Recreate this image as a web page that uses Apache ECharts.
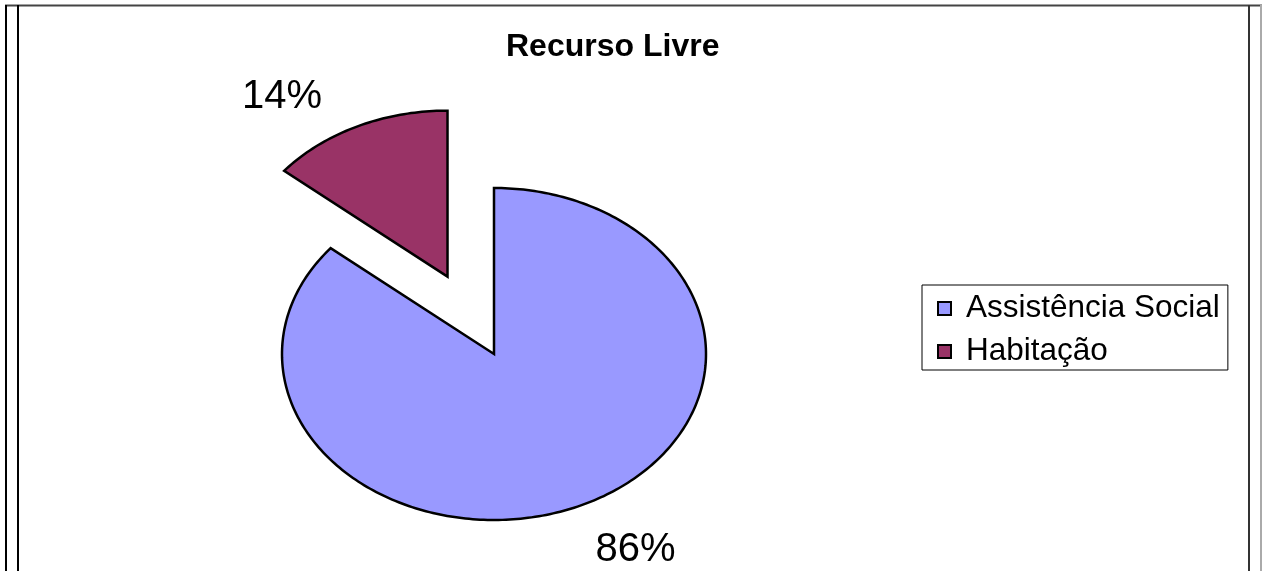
<!DOCTYPE html>
<html>
<head>
<meta charset="utf-8">
<script src="https://cdn.jsdelivr.net/npm/echarts@6/dist/echarts.min.js"></script>
<style>
html,body{margin:0;padding:0;background:#fff;}
#chart{width:1267px;height:571px;}
</style>
</head>
<body>
<div id="chart"></div>
<script>
// ---- data ----
const categories = ['Assistência Social', 'Habitação'];
const values = [86, 14];
const colors = ['#9999FF', '#993366'];
const exploded = [0, 0.515];
const chartTitle = 'Recurso Livre';

// ---- layout (ellipse pie, as in the stretched Excel plot area) ----
const CX = 494, CY = 354, RX = 212, RY = 166;
const FONT = '"Liberation Sans", Arial, Helvetica, sans-serif';
const total = values.reduce((a, b) => a + b, 0);

function makeRender(idx) {
  return function (params, api) {
    let cum = 0;
    for (let i = 0; i < idx; i++) cum += values[i];
    const v = api.value(0);
    const a0 = 2 * Math.PI * cum / total;
    const a1 = 2 * Math.PI * (cum + v) / total;
    const mid = (a0 + a1) / 2;
    const e = exploded[idx];
    const ox = CX + RX * e * Math.sin(mid);
    const oy = CY - RY * e * Math.cos(mid);
    const pts = [[ox, oy]];
    const n = Math.max(8, Math.ceil((a1 - a0) / (Math.PI / 180)));
    for (let k = 0; k <= n; k++) {
      const a = a0 + (a1 - a0) * k / n;
      pts.push([ox + RX * Math.sin(a), oy - RY * Math.cos(a)]);
    }
    const lx = ox + RX * 1.7 * Math.sin(mid) - 12;
    const ly = oy - RY * 1.25 * Math.cos(mid) + 8;
    return {
      type: 'group',
      children: [
        {
          type: 'polygon',
          shape: { points: pts },
          style: { fill: colors[idx], stroke: '#000', lineWidth: 2.5, lineJoin: 'miter' }
        },
        {
          type: 'text',
          style: {
            text: Math.round(v / total * 100) + '%',
            x: lx, y: ly,
            fontSize: 40, fontFamily: FONT, fill: '#000',
            align: 'center', verticalAlign: 'middle'
          }
        }
      ]
    };
  };
}

const chart = echarts.init(document.getElementById('chart'), null, { renderer: 'canvas' });
chart.setOption({
  animation: false,
  backgroundColor: '#fff',
  title: {
    text: chartTitle,
    left: 506, top: 31,
    padding: 0,
    textStyle: { fontFamily: FONT, fontSize: 32, fontWeight: 'bold', color: '#000', lineHeight: 32 }
  },
  legend: {
    orient: 'vertical',
    left: 922, top: 285,
    padding: [5, 8, 0, 15],
    itemGap: 6,
    itemWidth: 13, itemHeight: 13,
    icon: 'rect',
    borderColor: '#000', borderWidth: 1,
    backgroundColor: '#fff',
    data: categories,
    itemStyle: { borderColor: '#000', borderWidth: 2 },
    textStyle: { fontFamily: FONT, fontSize: 31.5, color: '#000', lineHeight: 37, padding: [0, 0, 0, 10] }
  },
  graphic: [
    { type: 'line', shape: { x1: 5, y1: 5.5, x2: 1262, y2: 5.5 }, style: { stroke: '#444', lineWidth: 2 } },
    { type: 'line', shape: { x1: 6, y1: 5, x2: 6, y2: 571 }, style: { stroke: '#000', lineWidth: 2 } },
    { type: 'line', shape: { x1: 18, y1: 5, x2: 18, y2: 571 }, style: { stroke: '#000', lineWidth: 2 } },
    { type: 'line', shape: { x1: 1249, y1: 5, x2: 1249, y2: 571 }, style: { stroke: '#333', lineWidth: 2 } },
    { type: 'line', shape: { x1: 1261, y1: 5, x2: 1261, y2: 571 }, style: { stroke: '#aaa', lineWidth: 2 } }
  ],
  series: categories.map((name, i) => ({
    type: 'custom',
    name: name,
    coordinateSystem: 'none',
    itemStyle: { color: colors[i], borderColor: '#000', borderWidth: 2 },
    data: [[values[i]]],
    renderItem: makeRender(i)
  }))
});
</script>
</body>
</html>
